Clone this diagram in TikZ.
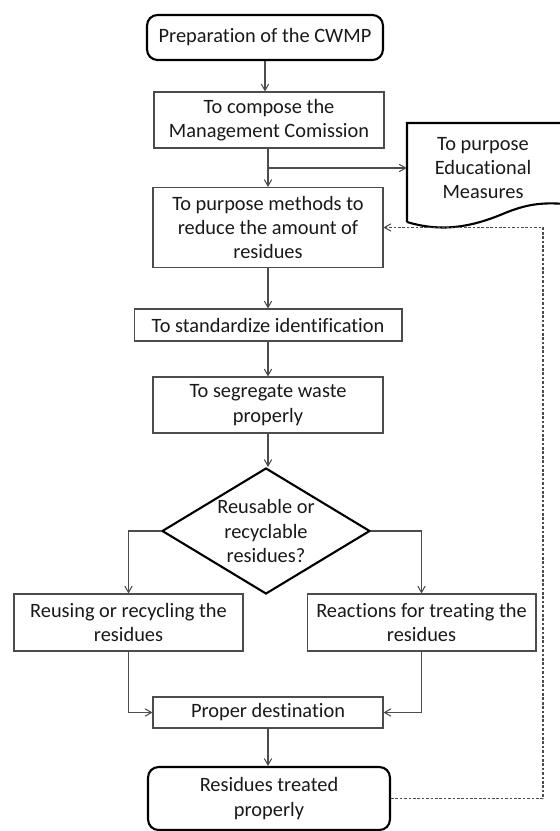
\documentclass[tikz,border=0pt]{standalone}
\usepackage{fontspec}
\setmainfont{Carlito}[Ligatures=NoCommon]
\usetikzlibrary{arrows,shapes.geometric}

\tikzset{
  stepbox/.style={draw=black!70, line width=0.6pt, align=center, inner sep=1pt, text=black!90},
  endbox/.style={stepbox, draw=black, line width=1.2pt, rounded corners=6pt},
  decision/.style={diamond, draw=black, line width=1.2pt, shape aspect=1.65, inner sep=0pt, align=center, text=black!90},
  flow/.style={->, >=angle 60, draw=black!70, line width=0.6pt},
  feedback/.style={flow, dash pattern=on 1.5pt off 1pt}
}

\begin{document}
\begin{tikzpicture}[x=0.02cm, y=-0.02cm, font=\fontsize{11.6}{13.8}\selectfont]
    \useasboundingbox (0,0) rectangle (559,831);
    % main column
    \node[endbox, minimum width=4.72cm, minimum height=0.9cm] (prep) at (265,37.5) {Preparation of the CWMP};
    \node[stepbox, minimum width=4.6cm, minimum height=1.12cm] (comp) at (269,120) {To compose the\\Management Comission};
    \node[stepbox, minimum width=4.6cm, minimum height=1.6cm] (purp) at (268,227.5) {To purpose methods to\\reduce the amount of\\residues};
    \node[stepbox, minimum width=5.36cm, minimum height=0.64cm] (stdz) at (268,325) {To standardize identification};
    \node[stepbox, minimum width=4.6cm, minimum height=1.12cm] (segr) at (268,405) {To segregate waste\\properly};
    \node[decision, minimum width=4.16cm, minimum height=2.52cm] (dec) at (266,531) {Reusable or\\recyclable\\residues?};
    \node[stepbox, minimum width=4.58cm, minimum height=1.14cm] (reuse) at (128.5,622.5) {Reusing or recycling the\\residues};
    \node[stepbox, minimum width=4.58cm, minimum height=1.14cm] (react) at (421.5,622.5) {Reactions for treating the\\residues};
    \node[stepbox, minimum width=4.6cm, minimum height=0.62cm] (dest) at (268,712.5) {Proper destination};
    \node[endbox, minimum width=4.84cm, minimum height=1.26cm] (fin) at (269,798.5) {Residues treated\\properly};
    % document on the right
    \node[align=center, text=black!90, inner sep=0pt, minimum width=3.04cm, minimum height=1.8cm] (edu) at (483,168) {To purpose\\Educational\\Measures};
    \draw[line width=1.2pt] (407,222) -- (407,123) -- (565,123) -- (565,204)
        .. controls (540,202) and (525,205) .. (505,213)
        .. controls (470,228) and (440,232) .. (407,222);
    % connectors
    \coordinate (br) at (268,168);
    \coordinate (fbx) at (543,0);
    \draw[flow] (prep.south) -- (prep.south |- comp.north);
    \draw[flow] (comp.south -| purp.north) -- (purp.north);
    \draw[flow] (br) -- (br -| edu.west);
    \draw[flow] (purp) -- (stdz);
    \draw[flow] (stdz) -- (segr);
    \draw[flow] (segr.south) -- (segr.south |- dec.north);
    \draw[flow] (dec.west) -| (reuse.north);
    \draw[flow] (dec.east) -| (react.north);
    \draw[flow] (reuse.south) |- (dest.west);
    \draw[flow] (react.south) |- (dest.east);
    \draw[flow] (dest) -- (dest |- fin.north);
    \draw[feedback] (fin.east) -- (fin.east -| fbx) -- (purp.east -| fbx) -- (purp.east);
\end{tikzpicture}
\end{document}
